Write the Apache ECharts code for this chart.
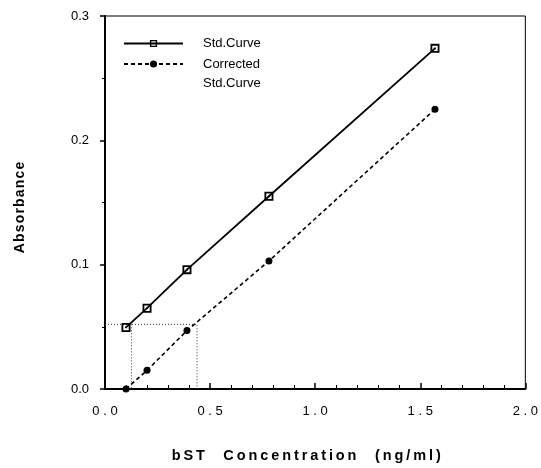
<!DOCTYPE html>
<html lang="en">
<head>
    <meta charset="UTF-8">
    <title>bST standard curve</title>
    <script src="https://cdn.jsdelivr.net/npm/echarts@6/dist/echarts.min.js"></script>
    <style type="text/css">
        html, body { margin: 0; padding: 0; background: #fff; }
        #pic { width: 541px; height: 468px; }
    </style>
</head>
<body>
<div id="pic"></div>
<script type="text/javascript">
    // concentrations (ng/ml) and absorbance
    var conc = [0.1, 0.2, 0.39, 0.78, 1.57];
    var stdCurve = [0.0495, 0.065, 0.096, 0.155, 0.274];
    var corrCurve = [0.0, 0.015, 0.047, 0.103, 0.225];
    // dotted guide lines (blank read-off)
    var guideH = [[0, 0.052], [0.438, 0.052], [0.438, 0]];
    var guideV = [[0.126, 0.052], [0.126, 0]];
    var xTicks = [0, 0.5, 1.0, 1.5, 2.0];
    var yTicks = [0, 0.1, 0.2, 0.3];

    function pairs(xs, ys) {
        return xs.map(function (x, i) { return [x, ys[i]]; });
    }

    var font = '"Liberation Sans", Arial, sans-serif';
    var squareDot = 'path://M0,0H10V10H0Z M2,2V8H8V2Z M4,4H6V6H4Z';

    var myChart = echarts.init(document.getElementById('pic'));
    var option = {
        animation: false,
        backgroundColor: '#fff',
        textStyle: { fontFamily: font, color: '#000' },
        grid: {
            left: 105, right: 13, top: 16, bottom: 78,
            show: true, borderColor: '#000', borderWidth: 1
        },
        legend: [{
            data: ['Std.Curve'],
            orient: 'vertical',
            left: 123, top: 37, padding: 0,
            itemWidth: 59, itemHeight: 9,
            textStyle: { fontSize: 13, color: '#000', fontFamily: font, padding: [0, 0, 0, 15] }
        }, {
            data: ['Corrected Std.Curve'],
            orient: 'vertical',
            left: 123, top: 35.5, padding: 0,
            itemWidth: 59, itemHeight: 9,
            formatter: function (name) { return '\u00a0\n' + name.replace(' ', '\n'); },
            textStyle: { fontSize: 13, color: '#000', fontFamily: font, lineHeight: 19, padding: [0, 0, 0, 15] }
        }],
        xAxis: {
            type: 'value',
            min: 0, max: 2, interval: 0.5,
            name: 'b\u2009S\u2009T\u2003 C\u2009o\u2009n\u2009c\u2009e\u2009n\u2009t\u2009r\u2009a\u2009t\u2009i\u2009o\u2009n\u2003 (\u2009n\u2009g\u2009/\u2009m\u2009l\u2009)',
            nameLocation: 'middle',
            nameGap: 59,
            nameTextStyle: { fontSize: 14.5, fontWeight: 'bold', color: '#000', fontFamily: font, padding: [0, 18, 0, 0] },
            axisLine: { lineStyle: { color: '#000', width: 2 } },
            axisTick: { inside: true, length: 6, lineStyle: { color: '#000', width: 1.5 } },
            minorTick: { show: true, splitNumber: 5, length: 4, lineStyle: { color: '#000', width: 1 } },
            splitLine: { show: false },
            axisLabel: {
                margin: 16, fontSize: 13, color: '#000', fontFamily: font,
                customValues: xTicks,
                formatter: function (v) { return v.toFixed(1).split('').join(' '); }
            }
        },
        yAxis: {
            type: 'value',
            min: 0, max: 0.3, interval: 0.1,
            name: 'A\u200ab\u200as\u200ao\u200ar\u200ab\u200aa\u200an\u200ac\u200ae',
            nameLocation: 'middle',
            nameGap: 78,
            nameTextStyle: { fontSize: 14, fontWeight: 'bold', color: '#000', fontFamily: font, padding: [0, 10, 0, 0] },
            axisLine: { lineStyle: { color: '#000', width: 2 } },
            axisTick: { inside: false, length: 5, lineStyle: { color: '#000', width: 1.5 } },
            minorTick: { show: true, splitNumber: 2, length: 3, lineStyle: { color: '#000', width: 1 } },
            splitLine: { show: false },
            axisLabel: {
                margin: 16, fontSize: 13, color: '#000', fontFamily: font,
                customValues: yTicks,
                formatter: function (v) { return v.toFixed(1); }
            }
        },
        series: [{
            name: 'Std.Curve',
            type: 'line',
            data: pairs(conc, stdCurve),
            symbol: squareDot,
            symbolSize: 9,
            itemStyle: { color: '#000' },
            lineStyle: { color: '#000', width: 1.8 },
            z: 3
        }, {
            name: 'Corrected Std.Curve',
            type: 'line',
            data: pairs(conc, corrCurve),
            symbol: 'circle',
            symbolSize: 7,
            itemStyle: { color: '#000' },
            lineStyle: { color: '#000', width: 1.6, type: [4, 3] },
            z: 3
        }, {
            name: 'guideH',
            type: 'line',
            data: guideH,
            symbol: 'none',
            lineStyle: { color: '#333', width: 1, type: [1, 2] },
            z: 2
        }, {
            name: 'guideV',
            type: 'line',
            data: guideV,
            symbol: 'none',
            lineStyle: { color: '#333', width: 1, type: [1, 2] },
            z: 2
        }]
    };
    myChart.setOption(option);
</script>
</body>
</html>
